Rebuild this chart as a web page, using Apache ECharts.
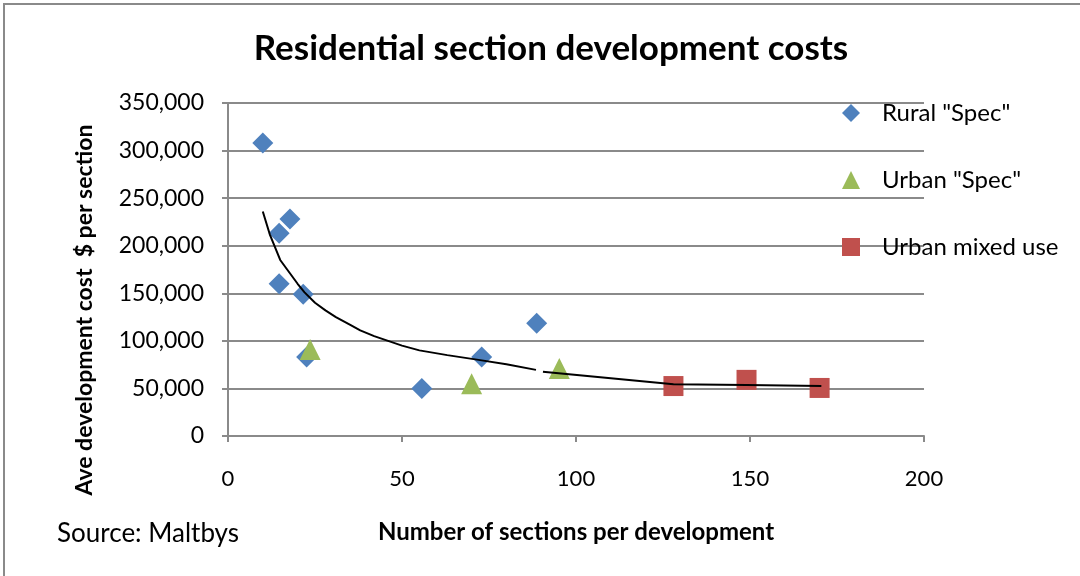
<!DOCTYPE html>
<html>
<head>
<meta charset="utf-8">
<script src="https://cdn.jsdelivr.net/npm/echarts@6/dist/echarts.min.js"></script>
<style>
html,body{margin:0;padding:0;background:#fff;}
#chart{width:1080px;height:576px;}
</style>
</head>
<body>
<div id="chart"></div>
<script>
// Data
const ruralSpec = [[10, 308000], [17.8, 228000], [14.7, 213000], [14.7, 160000], [21.6, 149000], [22.6, 83000], [55.7, 50000], [72.9, 83000], [88.7, 118500]];
const urbanSpec = [[23.6, 91000], [70, 55000], [95.2, 71000]];
const urbanMixed = [[128, 52500], [149, 59000], [170, 50500]];
// Trend line as drawn in the reference (with a small gap near x=90)
const trendX = [10, 12, 15, 17, 20, 22, 25, 28, 31, 35, 38, 42, 46, 50, 55, 63, 72, 80, 88.5, null, 90.5, 95, 128, 149, 170.5];
const trendY = [236000, 212000, 185000, 175000, 160000, 151000, 140000, 132000, 125000, 117000, 111000, 105000, 100000, 95000, 90000, 85000, 80000, 75500, 69500, null, 67500, 66000, 54500, 53500, 52500];
const xTicks = [0, 50, 100, 150, 200];
const yTicks = [0, 50000, 100000, 150000, 200000, 250000, 300000, 350000];

const seriesNames = ['Rural "Spec"', 'Urban "Spec"', 'Urban mixed use'];
const colors = ['#4F81BD', '#9BBB59', '#C0504D'];
const FONT = 'Lato';

const trendData = trendX.map((x, i) => (x === null ? [null, null] : [x, trendY[i]]));

const chart = echarts.init(document.getElementById('chart'), null, {renderer: 'canvas'});
chart.setOption({
  backgroundColor: '#fff',
  animation: false,
  textStyle: {fontFamily: FONT},
  title: {
    text: 'Residential section development costs',
    left: 546, top: 26, textAlign: 'center',
    textStyle: {fontFamily: FONT, fontWeight: 'bold', fontSize: 35, color: '#000'}
  },
  grid: {left: 228, right: 156, top: 103, bottom: 140, containLabel: false},
  xAxis: {
    type: 'value', min: xTicks[0], max: xTicks[xTicks.length - 1], interval: 50,
    axisLine: {show: true, lineStyle: {color: '#8a8a8a', width: 2}},
    axisTick: {show: true, length: 6, lineStyle: {color: '#8a8a8a', width: 2}},
    splitLine: {show: false},
    axisLabel: {fontFamily: FONT, fontSize: 22, color: '#000', margin: 32}
  },
  yAxis: {
    type: 'value', min: yTicks[0], max: yTicks[yTicks.length - 1], interval: 50000,
    axisLine: {show: true, lineStyle: {color: '#8a8a8a', width: 2}},
    axisTick: {show: true, length: 6, lineStyle: {color: '#8a8a8a', width: 2}},
    splitLine: {show: true, lineStyle: {color: '#8a8a8a', width: 2}},
    axisLabel: {fontFamily: FONT, fontSize: 23, color: '#000', margin: 24,
      formatter: v => v.toLocaleString('en-US')}
  },
  legend: {
    orient: 'vertical', left: 837, top: 96, itemGap: 43,
    itemWidth: 18, itemHeight: 18,
    data: [
      {name: seriesNames[0], icon: 'diamond'},
      {name: seriesNames[1], icon: 'triangle'},
      {name: seriesNames[2], icon: 'rect'}
    ],
    textStyle: {fontFamily: FONT, fontSize: 24, color: '#000', padding: [0, 0, 0, 17]}
  },
  graphic: [
    {type: 'rect', shape: {x: 4, y: 4, width: 1200, height: 700},
      style: {fill: 'none', stroke: '#8a8a8a', lineWidth: 2}, silent: true},
    {type: 'text', rotation: Math.PI / 2, x: 85, y: 310,
      style: {text: 'Ave development cost  $ per section', font: 'bold 23px ' + FONT, fill: '#000',
        textAlign: 'center', textVerticalAlign: 'middle'}},
    {type: 'text', x: 576, y: 532,
      style: {text: 'Number of sections per development', font: 'bold 24px ' + FONT, fill: '#000',
        textAlign: 'center', textVerticalAlign: 'middle'}},
    {type: 'text', x: 57, y: 534,
      style: {text: 'Source: Maltbys', font: '26px ' + FONT, fill: '#000',
        textAlign: 'left', textVerticalAlign: 'middle'}}
  ],
  series: [
    {name: 'trend', type: 'line', data: trendData, showSymbol: false, symbol: 'none',
      connectNulls: false, smooth: false, lineStyle: {color: '#000', width: 2}, z: 3, silent: true},
    {name: seriesNames[0], type: 'scatter', data: ruralSpec, symbol: 'diamond', symbolSize: 21,
      itemStyle: {color: colors[0], opacity: 1}, z: 2},
    {name: seriesNames[1], type: 'scatter', data: urbanSpec, symbol: 'triangle', symbolSize: 21,
      itemStyle: {color: colors[1], opacity: 1}, z: 2},
    {name: seriesNames[2], type: 'scatter', data: urbanMixed, symbol: 'rect', symbolSize: 20,
      itemStyle: {color: colors[2], opacity: 1}, z: 2}
  ]
});
</script>
</body>
</html>
